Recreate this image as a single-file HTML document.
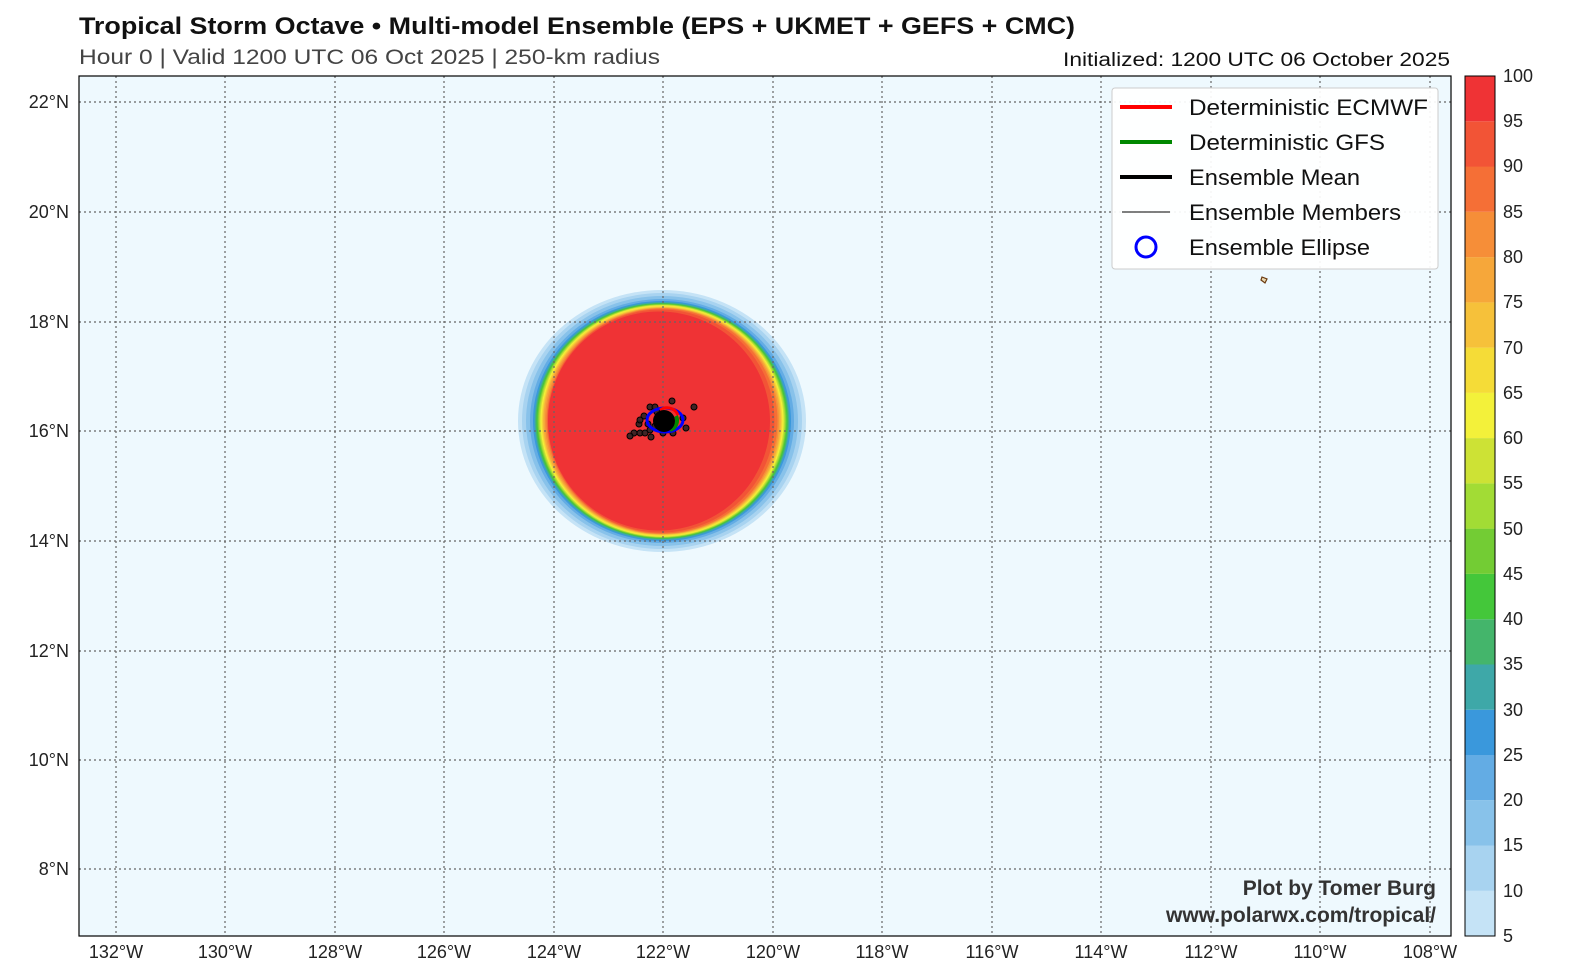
<!DOCTYPE html>
<html><head><meta charset="utf-8"><style>
body{margin:0;background:#fff;}
svg{display:block;font-family:"Liberation Sans",sans-serif;}
</style></head><body>
<svg width="1575" height="978" viewBox="0 0 1575 978" xmlns="http://www.w3.org/2000/svg">
<rect width="1575" height="978" fill="#fff"/>
<text x="79" y="34" font-size="24" font-weight="bold" fill="#111" textLength="996" lengthAdjust="spacingAndGlyphs">Tropical Storm Octave • Multi-model Ensemble (EPS + UKMET + GEFS + CMC)</text>
<text x="79" y="64" font-size="21" fill="#444" textLength="581" lengthAdjust="spacingAndGlyphs">Hour 0 | Valid 1200 UTC 06 Oct 2025 | 250-km radius</text>
<text x="1063" y="66" font-size="19" fill="#111" textLength="387" lengthAdjust="spacingAndGlyphs">Initialized: 1200 UTC 06 October 2025</text>
<rect x="79" y="76" width="1372" height="860" fill="#eef9fe"/>
<g>
<ellipse cx="662" cy="421" rx="144" ry="131" fill="#c5e3f6"/>
<ellipse cx="662" cy="421" rx="140" ry="128" fill="#a8d3f0"/>
<ellipse cx="662" cy="421" rx="136" ry="125" fill="#88c2ea"/>
<ellipse cx="662" cy="421" rx="132" ry="122" fill="#63ace4"/>
<ellipse cx="662" cy="421" rx="129" ry="120" fill="#3a98dc"/>
<ellipse cx="662" cy="421" rx="127.5" ry="119" fill="#3ea8a8"/>
<ellipse cx="662" cy="421" rx="126.5" ry="118" fill="#44b56b"/>
<ellipse cx="662" cy="421" rx="125.5" ry="117.5" fill="#44c73a"/>
<ellipse cx="662" cy="421" rx="124.5" ry="117" fill="#73cc34"/>
<ellipse cx="662" cy="421" rx="123.5" ry="116.5" fill="#a2dc35"/>
<ellipse cx="662" cy="421" rx="122.5" ry="116" fill="#cde235"/>
<ellipse cx="662" cy="421" rx="121.5" ry="115.5" fill="#f3f13a"/>
<ellipse cx="662" cy="421" rx="120.5" ry="115" fill="#f5dc37"/>
<ellipse cx="662" cy="421" rx="119.5" ry="114" fill="#f6c13a"/>
<ellipse cx="662" cy="421" rx="118.5" ry="113.5" fill="#f6a73a"/>
<ellipse cx="662" cy="421" rx="117" ry="113" fill="#f68e38"/>
<ellipse cx="662" cy="421" rx="115.5" ry="112.5" fill="#f56f36"/>
<ellipse cx="661" cy="421" rx="113.5" ry="111.5" fill="#f25436"/>
<ellipse cx="659" cy="421" rx="111" ry="109.5" fill="#ef3335"/>
</g>
<g stroke="#666" stroke-width="1.2" stroke-dasharray="2,3">
<line x1="116" y1="76" x2="116" y2="936"/><line x1="225" y1="76" x2="225" y2="936"/><line x1="335" y1="76" x2="335" y2="936"/><line x1="444" y1="76" x2="444" y2="936"/><line x1="554" y1="76" x2="554" y2="936"/><line x1="663" y1="76" x2="663" y2="936"/><line x1="773" y1="76" x2="773" y2="936"/><line x1="882" y1="76" x2="882" y2="936"/><line x1="992" y1="76" x2="992" y2="936"/><line x1="1101" y1="76" x2="1101" y2="936"/><line x1="1211" y1="76" x2="1211" y2="936"/><line x1="1320" y1="76" x2="1320" y2="936"/><line x1="1430" y1="76" x2="1430" y2="936"/>
<line x1="79" y1="102" x2="1451" y2="102"/><line x1="79" y1="212" x2="1451" y2="212"/><line x1="79" y1="322" x2="1451" y2="322"/><line x1="79" y1="431" x2="1451" y2="431"/><line x1="79" y1="541" x2="1451" y2="541"/><line x1="79" y1="651" x2="1451" y2="651"/><line x1="79" y1="760" x2="1451" y2="760"/><line x1="79" y1="869" x2="1451" y2="869"/>
</g>
<g fill="#222" fill-opacity="0.85" stroke="#000" stroke-width="1">
<circle cx="650" cy="407" r="3"/><circle cx="655" cy="407" r="3"/><circle cx="672" cy="401" r="3"/><circle cx="694" cy="407" r="3"/><circle cx="644" cy="416" r="3"/><circle cx="639" cy="424" r="3"/><circle cx="634" cy="433" r="3"/><circle cx="630" cy="436" r="3"/><circle cx="640" cy="433" r="3"/><circle cx="645" cy="433" r="3"/><circle cx="650" cy="430" r="3"/><circle cx="651" cy="437" r="3"/><circle cx="663" cy="433" r="3"/><circle cx="673" cy="433" r="3"/><circle cx="683" cy="418" r="3"/><circle cx="686" cy="428" r="3"/><circle cx="648" cy="424" r="3"/><circle cx="657" cy="412" r="3"/><circle cx="640" cy="420" r="3"/><circle cx="655" cy="426" r="3"/>
</g>
<ellipse cx="665" cy="420" rx="18" ry="12" fill="none" stroke="#00f" stroke-width="3"/>
<path d="M660 410 a12 12 0 0 1 18 5" stroke="#f00" stroke-width="3" fill="none"/>
<path d="M676 416 a10 10 0 0 1 -6 14" stroke="#080" stroke-width="4" fill="none"/>
<circle cx="664" cy="421" r="11" fill="#000"/>
<path d="M1262 277 l5 2 -2 4 -4 -3z" fill="#e8d8b0" stroke="#6b3a10" stroke-width="1.2"/>
<rect x="1112" y="88" width="326" height="181" rx="3" fill="#fff" fill-opacity="0.92" stroke="#ccc"/>
<g font-size="22" fill="#111">
<line x1="1120" y1="107" x2="1172" y2="107" stroke="#f00" stroke-width="4"/><text x="1189" y="115" textLength="239" lengthAdjust="spacingAndGlyphs">Deterministic ECMWF</text>
<line x1="1120" y1="142" x2="1172" y2="142" stroke="#080" stroke-width="4"/><text x="1189" y="150" textLength="196" lengthAdjust="spacingAndGlyphs">Deterministic GFS</text>
<line x1="1120" y1="177" x2="1172" y2="177" stroke="#000" stroke-width="4"/><text x="1189" y="185" textLength="171" lengthAdjust="spacingAndGlyphs">Ensemble Mean</text>
<line x1="1122" y1="212" x2="1170" y2="212" stroke="#000" stroke-width="1"/><text x="1189" y="220" textLength="212" lengthAdjust="spacingAndGlyphs">Ensemble Members</text>
<circle cx="1146" cy="247" r="10" fill="none" stroke="#00f" stroke-width="3"/><text x="1189" y="255" textLength="181" lengthAdjust="spacingAndGlyphs">Ensemble Ellipse</text>
</g>
<text x="1436" y="895" font-size="21" font-weight="bold" fill="#333" text-anchor="end">Plot by Tomer Burg</text>
<text x="1436" y="922" font-size="21" font-weight="bold" fill="#333" text-anchor="end">www.polarwx.com/tropical/</text>
<rect x="79" y="76" width="1372" height="860" fill="none" stroke="#000" stroke-width="1.2"/>
<g font-size="18" fill="#222" text-anchor="middle">
<text x="116" y="958">132°W</text><text x="225" y="958">130°W</text><text x="335" y="958">128°W</text><text x="444" y="958">126°W</text><text x="554" y="958">124°W</text><text x="663" y="958">122°W</text><text x="773" y="958">120°W</text><text x="882" y="958">118°W</text><text x="992" y="958">116°W</text><text x="1101" y="958">114°W</text><text x="1211" y="958">112°W</text><text x="1320" y="958">110°W</text><text x="1430" y="958">108°W</text>
</g>
<g font-size="18" fill="#222" text-anchor="end">
<text x="69" y="108">22°N</text><text x="69" y="218">20°N</text><text x="69" y="328">18°N</text><text x="69" y="437">16°N</text><text x="69" y="547">14°N</text><text x="69" y="657">12°N</text><text x="69" y="766">10°N</text><text x="69" y="875">8°N</text>
</g>
<g>
<rect x="1465" y="890.7" width="30" height="45.3" fill="#c5e3f6"/>
<rect x="1465" y="845.5" width="30" height="45.3" fill="#a8d3f0"/>
<rect x="1465" y="800.2" width="30" height="45.3" fill="#88c2ea"/>
<rect x="1465" y="754.9" width="30" height="45.3" fill="#63ace4"/>
<rect x="1465" y="709.7" width="30" height="45.3" fill="#3a98dc"/>
<rect x="1465" y="664.4" width="30" height="45.3" fill="#3ea8a8"/>
<rect x="1465" y="619.2" width="30" height="45.3" fill="#44b56b"/>
<rect x="1465" y="573.9" width="30" height="45.3" fill="#44c73a"/>
<rect x="1465" y="528.6" width="30" height="45.3" fill="#73cc34"/>
<rect x="1465" y="483.4" width="30" height="45.3" fill="#a2dc35"/>
<rect x="1465" y="438.1" width="30" height="45.3" fill="#cde235"/>
<rect x="1465" y="392.8" width="30" height="45.3" fill="#f3f13a"/>
<rect x="1465" y="347.6" width="30" height="45.3" fill="#f5dc37"/>
<rect x="1465" y="302.3" width="30" height="45.3" fill="#f6c13a"/>
<rect x="1465" y="257.1" width="30" height="45.3" fill="#f6a73a"/>
<rect x="1465" y="211.8" width="30" height="45.3" fill="#f68e38"/>
<rect x="1465" y="166.5" width="30" height="45.3" fill="#f56f36"/>
<rect x="1465" y="121.3" width="30" height="45.3" fill="#f25436"/>
<rect x="1465" y="76" width="30" height="45.3" fill="#ef3335"/>
<rect x="1465" y="76" width="30" height="860" fill="none" stroke="#000" stroke-width="1"/>
</g>
<g font-size="18" fill="#222">
<text x="1503" y="942">5</text><text x="1503" y="897">10</text><text x="1503" y="851">15</text><text x="1503" y="806">20</text><text x="1503" y="761">25</text><text x="1503" y="716">30</text><text x="1503" y="670">35</text><text x="1503" y="625">40</text><text x="1503" y="580">45</text><text x="1503" y="535">50</text><text x="1503" y="489">55</text><text x="1503" y="444">60</text><text x="1503" y="399">65</text><text x="1503" y="354">70</text><text x="1503" y="308">75</text><text x="1503" y="263">80</text><text x="1503" y="218">85</text><text x="1503" y="172">90</text><text x="1503" y="127">95</text><text x="1503" y="82">100</text>
</g>
</svg>
</body></html>
